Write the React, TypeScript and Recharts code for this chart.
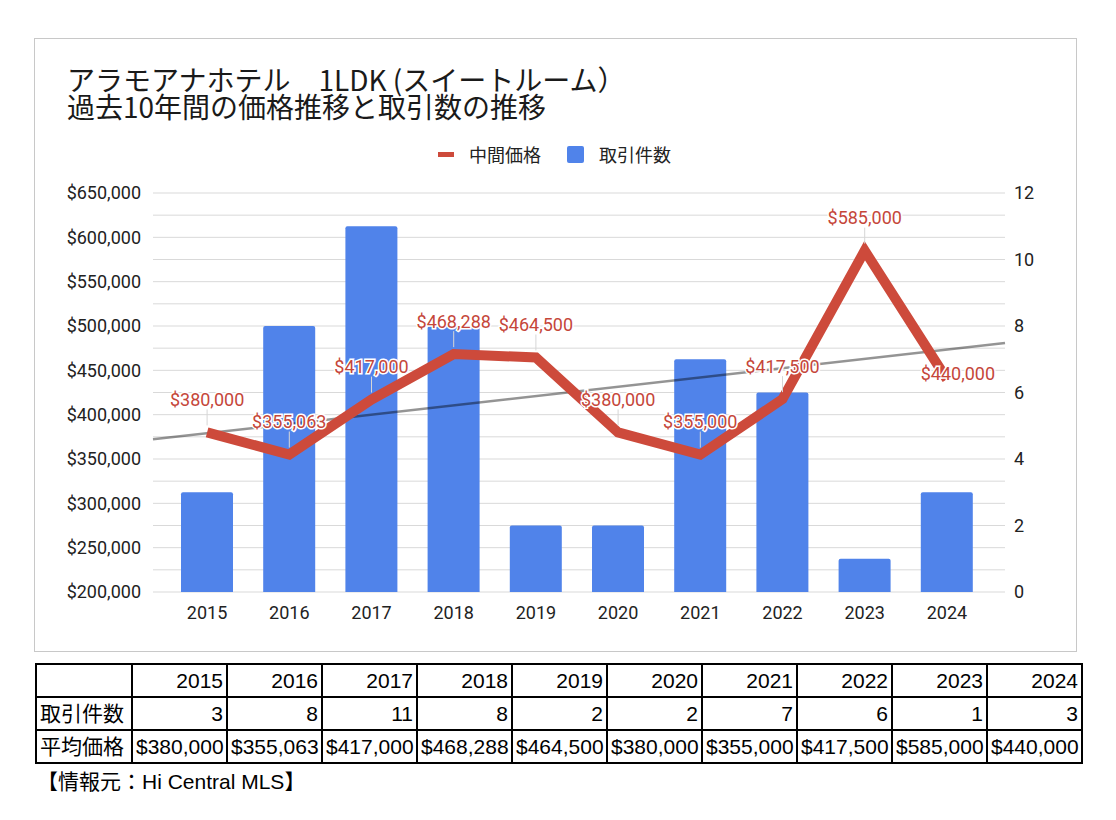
import React from 'react';
import {
  ComposedChart,
  Bar,
  Line,
  XAxis,
  YAxis,
  CartesianGrid,
  ReferenceLine,
  LabelList,
} from 'recharts';

const years = ['2015', '2016', '2017', '2018', '2019', '2020', '2021', '2022', '2023', '2024'];
const dealCounts = [3, 8, 11, 8, 2, 2, 7, 6, 1, 3];
const medianPrices = [380000, 355063, 417000, 468288, 464500, 380000, 355000, 417500, 585000, 440000];
const priceTicks = [
  200000, 225000, 250000, 275000, 300000, 325000, 350000, 375000, 400000, 425000,
  450000, 475000, 500000, 525000, 550000, 575000, 600000, 625000, 650000,
];
const countTicks = [0, 2, 4, 6, 8, 10, 12];

const RED = '#cd4a3b';
const BLUE = '#5083ea';
const TICK_FONT = 'Roboto, "Noto Sans CJK JP", sans-serif';
const TABLE_FONT = '"Liberation Sans", Arial, "Noto Sans CJK JP", sans-serif';

// plot geometry
const PLOT_W = 853;
const PAD_L = 13;
const PAD_R = 17;
const BAND = (PLOT_W - PAD_L - PAD_R) / years.length;
const TREND_X0 = -0.5 - PAD_L / BAND;
const TREND_X1 = years.length - 0.5 + PAD_R / BAND;

const chartData = years.map((year, i) => ({
  year,
  pos: i,
  count: dealCounts[i],
  price: medianPrices[i],
}));

// linear trend of price against year index (least squares)
const n = medianPrices.length;
const meanX = (n - 1) / 2;
const meanY = medianPrices.reduce((a, b) => a + b, 0) / n;
let sxy = 0;
let sxx = 0;
medianPrices.forEach((p, i) => {
  sxy += (i - meanX) * (p - meanY);
  sxx += (i - meanX) * (i - meanX);
});
const slope = sxy / sxx;
const trendAt = (x: number) => meanY + slope * (x - meanX);

const fmtPrice = (v: number) => '$' + v.toLocaleString('en-US');

const PriceLabel = (props: any) => {
  const { x, y, value, index } = props;
  const last = index === n - 1;
  const ly = last ? y - 6 : y - 33;
  const lx = last ? x + 11 : x;
  return (
    <g>
      {!last && <line x1={x} x2={x} y1={ly + 10} y2={y - 7} stroke="#d6d6d6" strokeWidth={1} />}
      <text
        x={lx}
        y={ly}
        textAnchor="middle"
        dominantBaseline="central"
        fontSize={18}
        fontFamily={TICK_FONT}
        fill="#c5463a"
        stroke="#fff"
        strokeWidth={3}
        paintOrder="stroke"
      >
        {fmtPrice(value)}
      </text>
    </g>
  );
};

const cellStyle: React.CSSProperties = {
  border: '2px solid #000',
  padding: '0 3px',
  height: 31,
  textAlign: 'right',
  whiteSpace: 'nowrap',
  lineHeight: '29px',
};

export default function App() {
  return (
    <div style={{ position: 'relative', width: 1100, height: 800, fontFamily: TICK_FONT }}>
      <div
        style={{
          position: 'absolute',
          left: 26,
          top: 30,
          width: 1041,
          height: 612,
          border: '1px solid #c8c8c8',
          background: '#fff',
        }}
      >
        <ComposedChart
          width={1041}
          height={612}
          data={chartData}
          margin={{ top: 154, right: 21, bottom: 29, left: 38 }}
        >
          <CartesianGrid xAxisId="cat" yAxisId="left" vertical={false} stroke="#d9d9d9" />
          <XAxis
            xAxisId="cat"
            dataKey="year"
            axisLine={false}
            tickLine={false}
            tickMargin={8}
            height={30}
            padding={{ left: PAD_L, right: PAD_R }}
            tick={{ fontSize: 18, fill: '#222', fontFamily: TICK_FONT }}
          />
          <XAxis
            xAxisId="trend"
            dataKey="pos"
            type="number"
            domain={[TREND_X0, TREND_X1]}
            allowDataOverflow
            hide
          />
          <YAxis
            yAxisId="left"
            width={80}
            domain={[200000, 650000]}
            ticks={priceTicks}
            interval={0}
            axisLine={false}
            tickLine={false}
            tickMargin={6}
            tickFormatter={(v: number) => (v % 50000 === 0 ? fmtPrice(v) : '')}
            tick={{ fontSize: 18, fill: '#222', fontFamily: TICK_FONT }}
          />
          <YAxis
            yAxisId="right"
            orientation="right"
            width={50}
            domain={[0, 12]}
            ticks={countTicks}
            interval={0}
            axisLine={false}
            tickLine={false}
            tickMargin={3}
            tick={{ fontSize: 18, fill: '#222', fontFamily: TICK_FONT, textAnchor: 'start' }}
          />
          <Bar
            xAxisId="cat"
            yAxisId="right"
            dataKey="count"
            fill={BLUE}
            barSize={52}
            radius={[2, 2, 0, 0]}
            isAnimationActive={false}
          />
          <ReferenceLine
            xAxisId="trend"
            yAxisId="left"
            segment={[
              { x: TREND_X0, y: trendAt(TREND_X0) },
              { x: TREND_X1, y: trendAt(TREND_X1) },
            ]}
            stroke="#000"
            strokeOpacity={0.42}
            strokeWidth={2.5}
            ifOverflow="visible"
          />
          <Line
            xAxisId="cat"
            yAxisId="left"
            dataKey="price"
            stroke={RED}
            strokeWidth={10}
            dot={false}
            activeDot={false}
            isAnimationActive={false}
          >
            <LabelList dataKey="price" content={PriceLabel} />
          </Line>
        </ComposedChart>

        <div
          style={{
            position: 'absolute',
            left: 32,
            top: 27,
            fontFamily: '"Noto Sans CJK JP", sans-serif',
            fontSize: 28,
            lineHeight: '27px',
            color: '#1a1a1a',
            whiteSpace: 'nowrap',
          }}
        >
          <div>アラモアナホテル　1LDK (スイートルーム）</div>
          <div>過去10年間の価格推移と取引数の推移</div>
        </div>

        <div
          style={{
            position: 'absolute',
            left: 403,
            top: 102,
            display: 'flex',
            alignItems: 'center',
            fontFamily: '"Noto Sans CJK JP", sans-serif',
            fontSize: 18,
            color: '#222',
            whiteSpace: 'nowrap',
          }}
        >
          <span style={{ width: 16, height: 5, background: RED, marginRight: 15 }} />
          <span>中間価格</span>
          <span
            style={{ width: 17, height: 17, background: BLUE, borderRadius: 2, marginLeft: 26, marginRight: 15 }}
          />
          <span>取引件数</span>
        </div>
      </div>

      <table
        style={{
          position: 'absolute',
          left: 27,
          top: 655,
          borderCollapse: 'collapse',
          fontFamily: TABLE_FONT,
          fontSize: 21,
          color: '#000',
          tableLayout: 'fixed',
          width: 1047,
        }}
      >
        <colgroup>
          <col style={{ width: 96 }} />
          {years.map((y) => (
            <col key={y} style={{ width: 95 }} />
          ))}
        </colgroup>
        <tbody>
          <tr>
            <td style={cellStyle} />
            {years.map((y) => (
              <td key={y} style={cellStyle}>
                {y}
              </td>
            ))}
          </tr>
          <tr>
            <td style={{ ...cellStyle, textAlign: 'left' }}>取引件数</td>
            {dealCounts.map((c, i) => (
              <td key={i} style={cellStyle}>
                {c}
              </td>
            ))}
          </tr>
          <tr>
            <td style={{ ...cellStyle, textAlign: 'left' }}>平均価格</td>
            {medianPrices.map((p, i) => (
              <td key={i} style={cellStyle}>
                {fmtPrice(p)}
              </td>
            ))}
          </tr>
        </tbody>
      </table>

      <div
        style={{
          position: 'absolute',
          left: 29,
          top: 757,
          fontFamily: TABLE_FONT,
          fontSize: 21,
          color: '#000',
          whiteSpace: 'nowrap',
        }}
      >
        【情報元：Hi Central MLS】
      </div>
    </div>
  );
}
